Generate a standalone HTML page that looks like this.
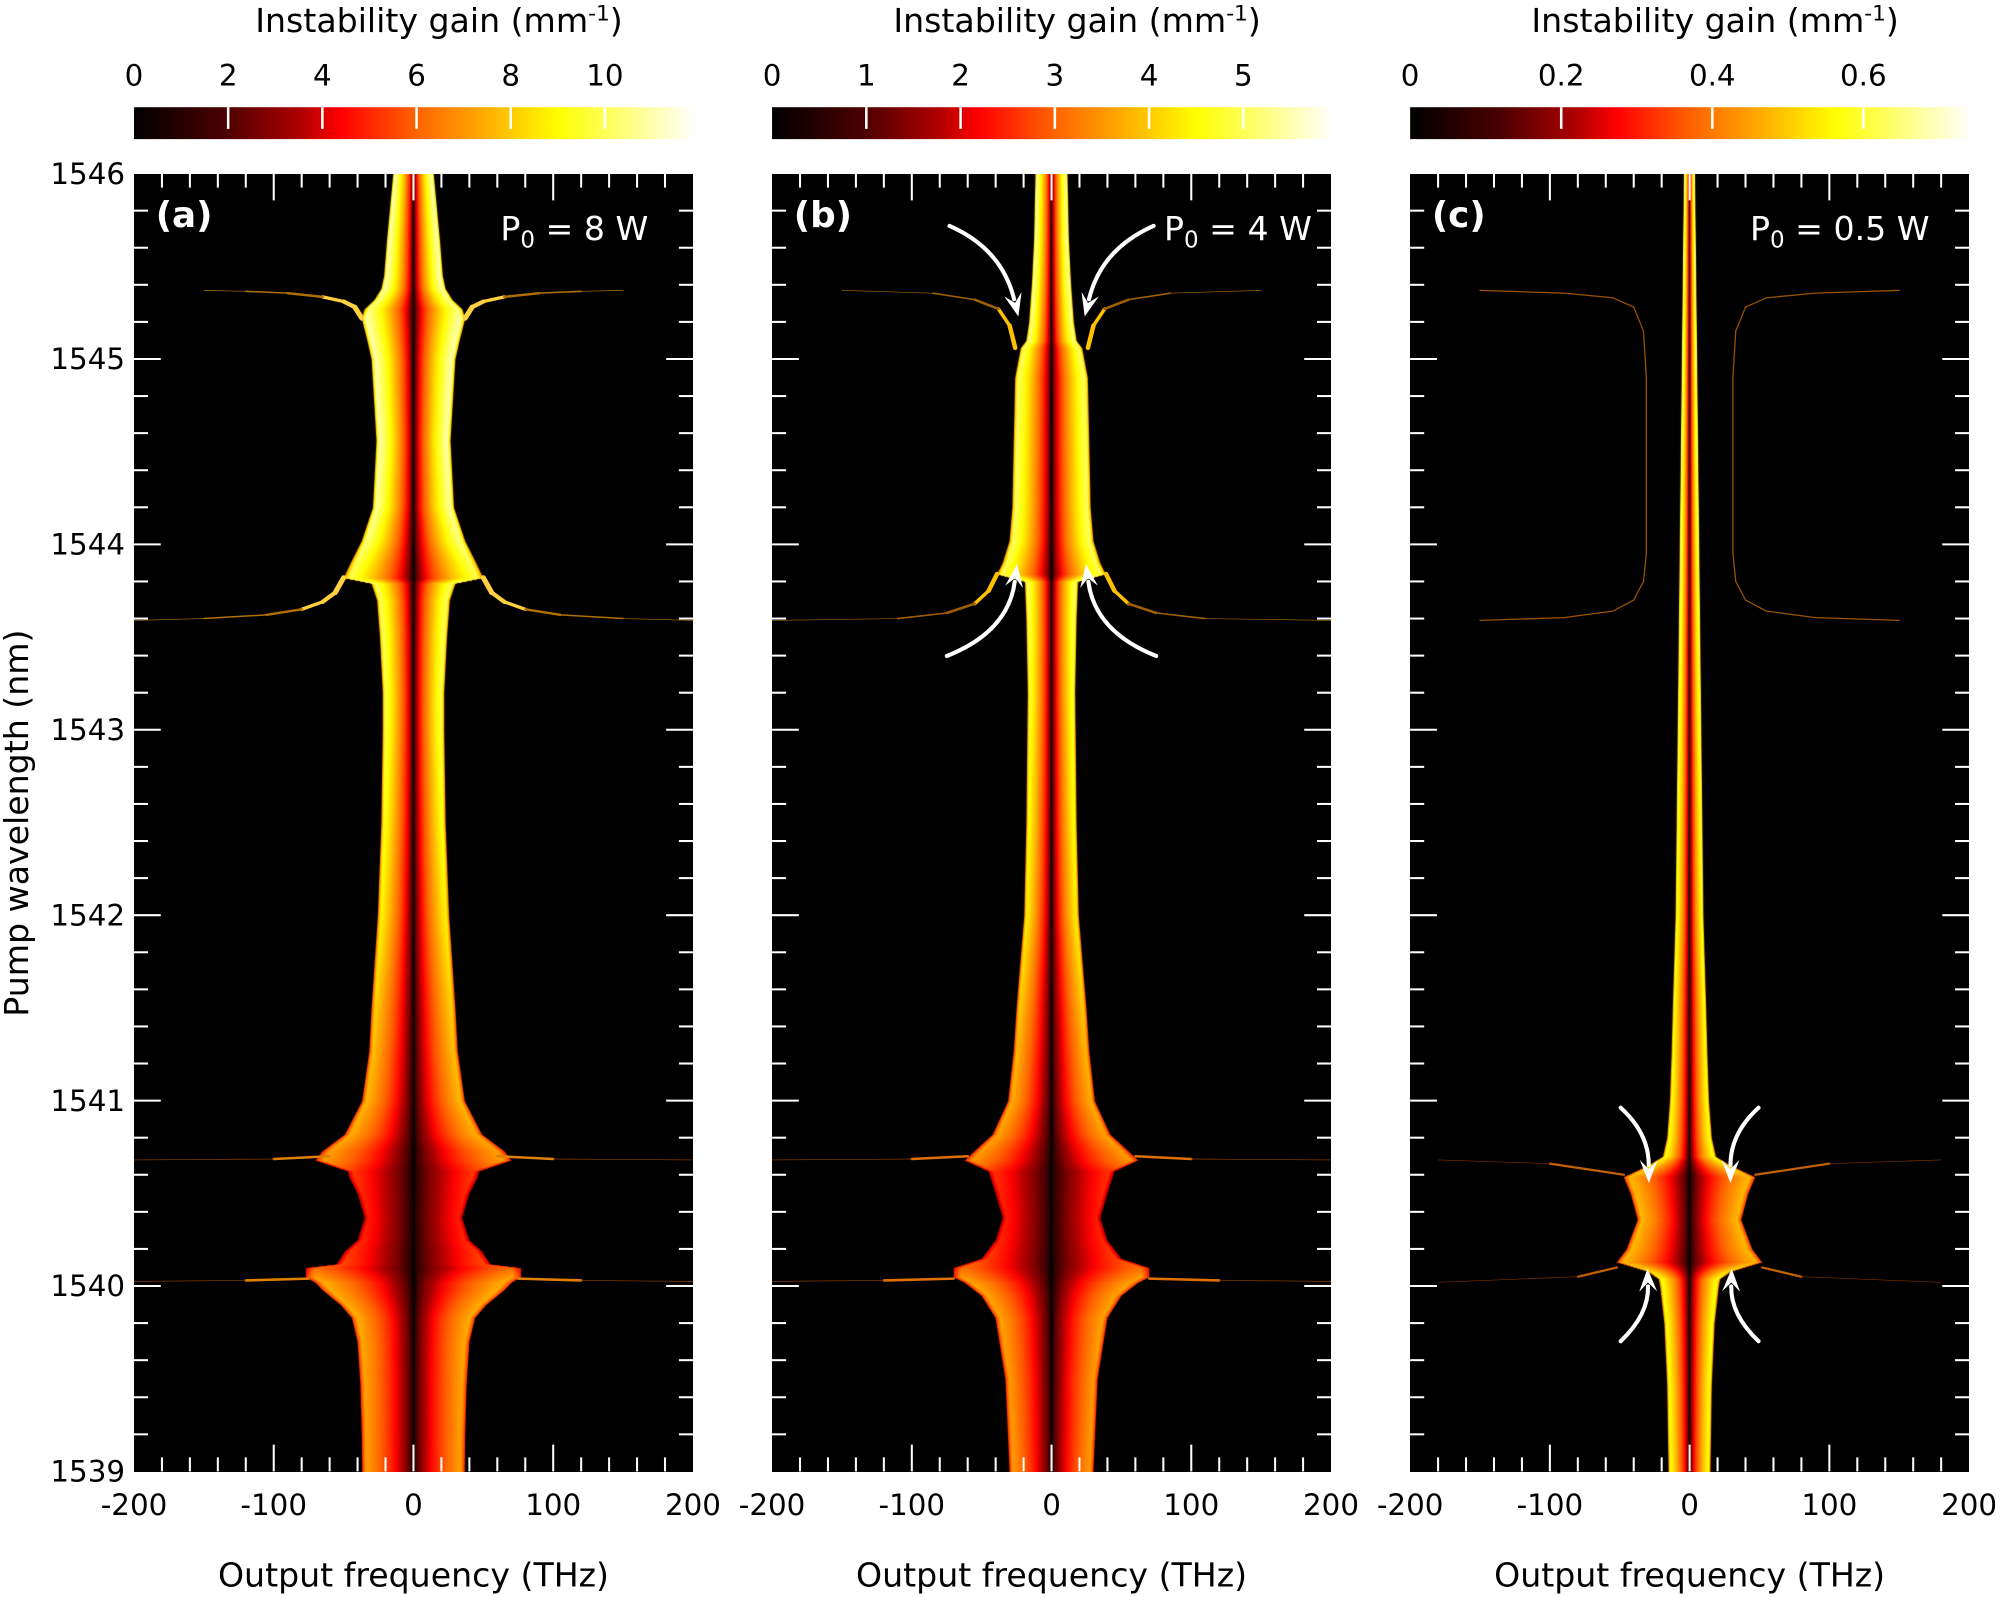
<!DOCTYPE html>
<html><head><meta charset="utf-8">
<style>
html,body{margin:0;padding:0;background:#fff;}
#wrap{position:relative;width:2001px;height:1597px;overflow:hidden;background:#fff;}
canvas{position:absolute;}
svg{position:absolute;left:0;top:0;}
text{font-family:"DejaVu Sans","Liberation Sans",sans-serif;fill:#000;}
</style></head>
<body>
<div id="wrap">
<canvas id="cva"></canvas>
<canvas id="cvb"></canvas>
<canvas id="cvc"></canvas>
<svg id="svg" width="2001" height="1597" viewBox="0 0 1568 1251.4"></svg>
</div>
<script>
// ---------- data ----------
const xTicks = [-200,-100,0,100,200];
const yTicks = [1539,1540,1541,1542,1543,1544,1545,1546];
const cbTicksA = [0,2,4,6,8,10];
const cbTicksB = [0,1,2,3,4,5];
const cbTicksC = [0,0.2,0.4,0.6];
const cbLabelsC = ["0","0.2","0.4","0.6"];
const cbMax = [11.87,5.93,0.74];
const panelLetters = ["(a)","(b)","(c)"];
const powerLabels = ["8 W","4 W","0.5 W"];

const A_lam = [1546.0,1545.64,1545.45,1545.38,1545.32,1545.27,1545.22,1545.1,1545.0,1544.56,1544.2,1544.02,1543.9,1543.82,1543.79,1543.7,1543.5,1543.2,1543.0,1542.5,1542.0,1541.5,1541.27,1541.0,1540.82,1540.73,1540.68,1540.62,1540.59,1540.5,1540.37,1540.25,1540.19,1540.12,1540.1,1540.05,1540.02,1539.98,1539.9,1539.83,1539.7,1539.47,1539.2,1539.0];
const A_hw = [14.5,19,21,23,28,35,37,33,30,26.5,29,37,45,50,30,26,24,22,22,23,25.5,30,31.6,36.7,49,65,70,47,46,40,35,40,49,55,77,77,70,65,52,44,40,38,37,36.7];
const A_pk = [11.5,11.5,11.5,11.5,11,11,11.5,11.5,11.5,11.5,11.3,11,10.5,10.3,10.5,10.5,10.5,10.3,10.2,9.8,9.3,8.5,8.2,8,7.8,7.5,7.5,5.5,5.5,5.2,5,5.2,5.5,5.8,6.5,7.5,7.8,7.8,7.8,7.8,7.7,7.6,7.5,7.5];

const B_lam = [1546,1545.64,1545.41,1545.2,1545.1,1545.06,1544.9,1544.56,1544.2,1544.02,1543.9,1543.84,1543.8,1543.6,1543.2,1542.5,1542,1541.5,1541.27,1541,1540.82,1540.73,1540.68,1540.62,1540.5,1540.37,1540.25,1540.15,1540.1,1540.05,1540.02,1539.95,1539.83,1539.5,1539.0];
const B_hw = [11.5,12.5,14,16,18,22,26,27,28,30,35,39,19,18,17,18,19.5,25,27,31,42,55,62,45,40,35,40,50,70,70,62,50,40,33,30];
const B_pk = [5.6,5.6,5.6,5.5,5.5,5.3,5.3,5.3,5.3,5.3,5.2,5.2,5.3,5.2,5.0,4.8,4.6,4.2,4.0,3.9,3.8,3.7,3.7,2.7,2.6,2.5,2.6,2.8,3.3,3.7,3.8,3.8,3.8,3.7,3.7];

const C_lam = [1546,1545,1544,1543,1542,1541.5,1541.27,1541,1540.8,1540.7,1540.65,1540.59,1540.5,1540.36,1540.2,1540.13,1540.08,1540.04,1540.0,1539.8,1539.47,1539.0];
const C_hw = [4,5.5,7,8.5,10,12,12.8,14,16,19,30,47,42,37,45,52,30,22,21,18,16,15];
const C_pk = [0.7,0.68,0.66,0.64,0.62,0.6,0.6,0.6,0.6,0.6,0.55,0.5,0.5,0.5,0.5,0.5,0.55,0.6,0.6,0.6,0.6,0.6];

const A_hornUpX = [37,42,50,65,90,120,150];
const A_hornUpL = [1545.22,1545.28,1545.31,1545.335,1545.355,1545.365,1545.37];
const A_hornDnX = [50,56,65,80,105,150,200];
const A_hornDnL = [1543.82,1543.74,1543.69,1543.65,1543.62,1543.60,1543.59];
const A_line1X = [60,100,200];
const A_line1L = [1540.70,1540.685,1540.68];
const A_line2X = [75,120,200];
const A_line2L = [1540.04,1540.03,1540.025];

const B_hornUpX = [26,30,38,55,85,150];
const B_hornUpL = [1545.06,1545.18,1545.27,1545.32,1545.355,1545.37];
const B_hornDnX = [39,45,55,75,110,200];
const B_hornDnL = [1543.84,1543.75,1543.68,1543.63,1543.60,1543.59];
const B_line1X = [60,100,200];
const B_line1L = [1540.70,1540.685,1540.68];
const B_line2X = [70,120,200];
const B_line2L = [1540.04,1540.03,1540.025];

const C_curveX = [150,90,55,40,33,31,31,33,40,55,90,150];
const C_curveL = [1545.37,1545.355,1545.33,1545.28,1545.15,1544.9,1543.95,1543.8,1543.7,1543.64,1543.605,1543.59];
const C_line1X = [47,100,180];
const C_line1L = [1540.6,1540.66,1540.68];
const C_line2X = [52,80,180];
const C_line2L = [1540.10,1540.05,1540.02];

// ---------- layout ----------
const S = 2001/1568;
const panels = [
  {x0:105,x1:543,id:'cva',lam:A_lam,hw:A_hw,pk:A_pk,max:cbMax[0],pOff:35},
  {x0:605,x1:1043,id:'cvb',lam:B_lam,hw:B_hw,pk:B_pk,max:cbMax[1],pOff:15},
  {x0:1105,x1:1543,id:'cvc',lam:C_lam,hw:C_hw,pk:C_pk,max:cbMax[2],pOff:31}
];
const Y0=136, Y1=1153, BAR0=84, BAR1=109;
const yScale = l => Y0 + (1546-l)/7*(Y1-Y0);
const xScaleP = (p,f) => p.x0 + (f+200)/400*(p.x1-p.x0);

const cmapStops = [[0,[0,0,0]],[0.16,[74,0,0]],[0.30,[176,0,0]],[0.37,[255,0,0]],[0.5,[255,96,0]],[0.62,[255,168,0]],[0.76,[255,255,0]],[1,[255,255,250]]];
function cmap(t){
  t=Math.max(0,Math.min(1,t));
  for(let i=1;i<cmapStops.length;i++){
    if(t<=cmapStops[i][0]){
      const a=cmapStops[i-1],b=cmapStops[i],f=(t-a[0])/(b[0]-a[0]);
      const c=a[1].map((v,k)=>Math.round(v+(b[1][k]-v)*f));
      return 'rgb('+c.join(',')+')';
    }
  }
  return 'rgb(255,255,250)';
}
function interp(lamArr,valArr,l){
  for(let i=1;i<lamArr.length;i++){
    if(l>=lamArr[i]){const f=(lamArr[i-1]-l)/(lamArr[i-1]-lamArr[i]);return valArr[i-1]+(valArr[i]-valArr[i-1])*f;}
  }
  return valArr[valArr.length-1];
}
function profile(u){
  let v=Math.sqrt(u);
  if(u>0.92) v*=1-(u-0.92)/0.08*0.35;
  return v;
}

// ---------- heatmaps ----------
panels.forEach(p=>{
  const cv=document.getElementById(p.id);
  const W=Math.round((p.x1-p.x0)*S), H=Math.round((Y1-Y0)*S);
  cv.width=W; cv.height=H;
  cv.style.left=(p.x0*S)+'px'; cv.style.top=(Y0*S)+'px';
  cv.style.width=W+'px'; cv.style.height=H+'px';
  const ctx=cv.getContext('2d');
  ctx.fillStyle='#000'; ctx.fillRect(0,0,W,H);
  const cx=W/2;
  for(let r=0;r<H;r++){
    const l=1546-7*(r+0.5)/H;
    const hw=interp(p.lam,p.hw,l)/400*W;
    const pk=interp(p.lam,p.pk,l);
    const g=ctx.createLinearGradient(cx-hw,0,cx+hw,0);
    const N=24;
    for(let k=0;k<=N;k++){
      const u=k/N;
      const col=cmap(pk*profile(u)/p.max);
      g.addColorStop(0.5+0.5*u,col);
      g.addColorStop(0.5-0.5*u,col);
    }
    ctx.fillStyle=g;
    ctx.fillRect(cx-hw,r,2*hw,1);
  }
});

// ---------- svg overlay ----------
const NS='http://www.w3.org/2000/svg';
const svg=document.getElementById('svg');
function el(tag,attrs,parent){
  const e=document.createElementNS(NS,tag);
  for(const k in attrs) e.setAttribute(k,attrs[k]);
  (parent||svg).appendChild(e); return e;
}
const defs=el('defs',{});
function taper(p,xs,ls,w0,w1,c0,c1,name){
  const g=el('g',{});
  
  
  [1,-1].forEach(sg=>{
    const n=xs.length;
    for(let i=0;i<n-1;i++){
      const f=i/(n-2||1);
      const ln=el('line',{x1:xScaleP(p,sg*xs[i]),y1:yScale(ls[i]),x2:xScaleP(p,sg*xs[i+1]),y2:yScale(ls[i+1]),
        stroke:f<0.5?c0:c1,'stroke-width':w0+(w1-w0)*f,'stroke-linecap':'round'},g);
      
      
    }
  });
}
taper(panels[0],A_hornUpX,A_hornUpL,4,0.5,'#ffd040','#b07000','branch-a-upper');
taper(panels[0],A_hornDnX,A_hornDnL,4,0.5,'#ffd040','#b07000','branch-a-lower');
taper(panels[0],A_line1X,A_line1L,2,0.5,'#e08000','#904000','line-a-1540-7');
taper(panels[0],A_line2X,A_line2L,2,0.5,'#e08000','#904000','line-a-1540-0');
taper(panels[1],B_hornUpX,B_hornUpL,3.5,0.5,'#ffc000','#a06000','branch-b-upper');
taper(panels[1],B_hornDnX,B_hornDnL,3.5,0.5,'#ffc000','#a06000','branch-b-lower');
taper(panels[1],B_line1X,B_line1L,2,0.5,'#e07000','#904000','line-b-1540-7');
taper(panels[1],B_line2X,B_line2L,2,0.5,'#e07000','#904000','line-b-1540-0');
taper(panels[2],C_curveX,C_curveL,1,1,'#9a5200','#9a5200','branch-c-bracket');
taper(panels[2],C_line1X,C_line1L,1.8,0.5,'#c06000','#803000','line-c-1540-7');
taper(panels[2],C_line2X,C_line2L,1.8,0.5,'#c06000','#803000','line-c-1540-0');

const lg=el('linearGradient',{id:'cbgrad',x1:0,y1:0,x2:1,y2:0},defs);
cmapStops.forEach(s=>{el('stop',{offset:s[0],'stop-color':'rgb('+s[1].join(',')+')'},lg);});

const cbTickSets=[cbTicksA,cbTicksB,cbTicksC];
const cbLabelSets=[cbTicksA.map(String),cbTicksB.map(String),cbLabelsC];

panels.forEach((p,pi)=>{
  const W=p.x1-p.x0;
  const bar=el('rect',{x:p.x0,y:BAR0,width:W,height:BAR1-BAR0,fill:'url(#cbgrad)'});
  
  
  cbTickSets[pi].forEach((v,i)=>{
    const x=p.x0+v/p.max*W;
    if(v>0){const tl=el('line',{x1:x,y1:BAR0,x2:x,y2:BAR0+17,stroke:'#fff','stroke-width':2});
       }
    const t=el('text',{x:x,y:67,'text-anchor':'middle','font-size':23});
    t.textContent=cbLabelSets[pi][i];
    
    
  });
  const title=el('text',{x:p.x0+W/2+20,y:25,'text-anchor':'middle','font-size':26});
  
  
  title.appendChild(document.createTextNode('Instability gain (mm'));
  const sup=el('tspan',{dy:-9,'font-size':17},title); sup.textContent='-1';
  const cl=el('tspan',{dy:9},title); cl.textContent=')';

  const g=el('g',{stroke:'#fff','stroke-width':1.6});
  
  
  for(let f=-180;f<=180;f+=20){
    const x=xScaleP(p,f), L=(f%100===0)?21:11;
    el('line',{x1:x,y1:Y1,x2:x,y2:Y1-L},g);
    el('line',{x1:x,y1:Y0,x2:x,y2:Y0+L},g);
  }
  for(let k=1;k<35;k++){
    const y=Y0+k*(Y1-Y0)/35, L=(k%5===0)?21:11;
    el('line',{x1:p.x0,y1:y,x2:p.x0+L,y2:y},g);
    el('line',{x1:p.x1,y1:y,x2:p.x1-L,y2:y},g);
  }
  xTicks.forEach(v=>{
    const t=el('text',{x:xScaleP(p,v),y:1187,'text-anchor':'middle','font-size':23});
    t.textContent=String(v);
    
    
  });
  const xl=el('text',{x:p.x0+W/2,y:1243,'text-anchor':'middle','font-size':26});
  xl.textContent='Output frequency (THz)';
  
  
  const pl=el('text',{x:p.x0+17,y:178,'font-size':28,'font-weight':'bold',style:'fill:#fff'});
  pl.textContent=panelLetters[pi];
  
  
  const pw=el('text',{x:p.x1-p.pOff,y:188,'text-anchor':'end','font-size':26,style:'fill:#fff'});
  
  
  pw.appendChild(document.createTextNode('P'));
  const sb=el('tspan',{dy:6,'font-size':18},pw); sb.textContent='0';
  const rest=el('tspan',{dy:-6},pw); rest.textContent=' = '+powerLabels[pi];
});

yTicks.forEach(v=>{
  const t=el('text',{x:98,y:yScale(v)+8,'text-anchor':'end','font-size':23});
  t.textContent=String(v);
  
  
});
const yl=el('text',{x:0,y:0,'text-anchor':'middle','font-size':26,transform:'translate(22,645) rotate(-90)'});
yl.textContent='Pump wavelength (nm)';



function arrow(x0,y0,cx,cy,x1,y1){
  const g=el('g',{});
  
  
  const dx=x1-cx, dy=y1-cy, d=Math.hypot(dx,dy), ux=dx/d, uy=dy/d;
  const bx=x1-ux*14, by=y1-uy*14;
  el('path',{d:`M${x0},${y0} Q${cx},${cy} ${bx},${by}`,fill:'none',stroke:'#fff','stroke-width':3.2,'stroke-linecap':'round'},g);
  const px=-uy, py=ux;
  el('polygon',{points:`${x1},${y1} ${bx+px*7-ux*4},${by+py*7-uy*4} ${bx+ux*3},${by+uy*3} ${bx-px*7-ux*4},${by-py*7-uy*4}`,fill:'#fff'},g);
}
const bc=824;
arrow(744,177,785,195,798,248); arrow(2*bc-744,177,2*bc-785,195,2*bc-798,248);
arrow(742,514,790,495,797,442); arrow(2*bc-742,514,2*bc-790,495,2*bc-797,442);
const cc=1324;
arrow(1270,868,1292,888,1292,927); arrow(2*cc-1270,868,2*cc-1292,888,2*cc-1292,927);
arrow(1270,1051,1292,1030,1291,994); arrow(2*cc-1270,1051,2*cc-1292,1030,2*cc-1291,994);
</script>
</body></html>
